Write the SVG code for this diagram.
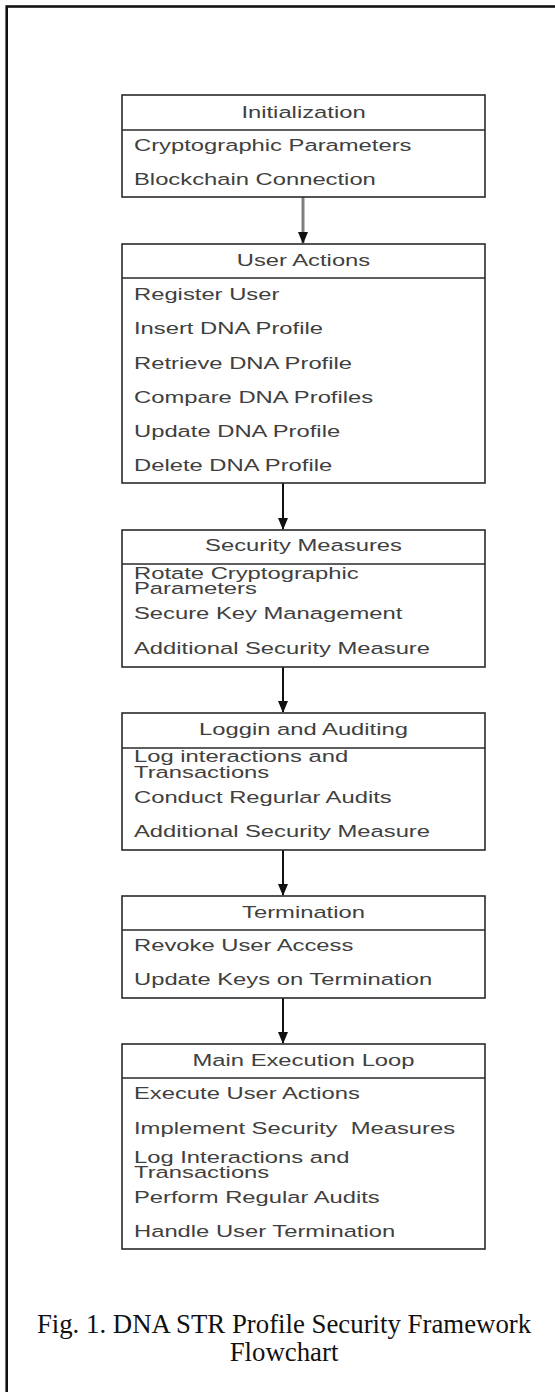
<svg xmlns="http://www.w3.org/2000/svg" width="555" height="1392" viewBox="0 0 555 1392">
<style>
.bg{fill:#ffffff}
.frame{fill:none;stroke:#111;stroke-width:2.6}
.box{fill:#ffffff;stroke:#2a2a2a;stroke-width:1.6}
.div{stroke:#2a2a2a;stroke-width:1.4}
.t{font-family:"Liberation Sans",Arial,sans-serif;font-size:16.3px;fill:#404040}
.h{text-anchor:middle}
.cap{font-family:"Liberation Serif","Times New Roman",serif;font-size:26.8px;fill:#111;text-anchor:middle}
.conn{fill:none;stroke:#111;stroke-width:2}
.conn1{fill:none;stroke:#808080;stroke-width:3}
</style>
<defs>
<marker id="ah" markerWidth="12" markerHeight="10" refX="11" refY="5" orient="auto" markerUnits="userSpaceOnUse">
<path d="M0,0 L12,5 L0,10 Z" fill="#111"/>
</marker>
</defs>
<rect class="bg" x="0" y="0" width="555" height="1392"/>
<rect class="frame" x="6.7" y="6.5" width="600" height="1420"/>

<g id="connectors">
<line class="conn1" x1="303" y1="197" x2="303" y2="243" marker-end="url(#ah)"/>
<line class="conn" x1="283" y1="483" x2="283" y2="529" marker-end="url(#ah)"/>
<line class="conn" x1="283" y1="667" x2="283" y2="712" marker-end="url(#ah)"/>
<line class="conn" x1="283" y1="850" x2="283" y2="895" marker-end="url(#ah)"/>
<line class="conn" x1="283" y1="998" x2="283" y2="1043" marker-end="url(#ah)"/>
</g>

<g id="initialization">
<rect class="box" x="122" y="95" width="363" height="102"/>
<line class="div" x1="122" y1="130" x2="485" y2="130"/>
<text class="t h" transform="matrix(1.46 0 0 1 303.5 118)">Initialization</text>
<text class="t" transform="matrix(1.46 0 0 1 134 151)">Cryptographic Parameters</text>
<text class="t" transform="matrix(1.46 0 0 1 134 185.3)">Blockchain Connection</text>
</g>

<g id="user-actions">
<rect class="box" x="122" y="244" width="363" height="239"/>
<line class="div" x1="122" y1="278" x2="485" y2="278"/>
<text class="t h" transform="matrix(1.46 0 0 1 303.5 266)">User Actions</text>
<text class="t" transform="matrix(1.46 0 0 1 134 300)">Register User</text>
<text class="t" transform="matrix(1.46 0 0 1 134 334.3)">Insert DNA Profile</text>
<text class="t" transform="matrix(1.46 0 0 1 134 369)">Retrieve DNA Profile</text>
<text class="t" transform="matrix(1.46 0 0 1 134 402.7)">Compare DNA Profiles</text>
<text class="t" transform="matrix(1.46 0 0 1 134 436.7)">Update DNA Profile</text>
<text class="t" transform="matrix(1.46 0 0 1 134 471)">Delete DNA Profile</text>
</g>

<g id="security-measures">
<rect class="box" x="122" y="530" width="363" height="137"/>
<line class="div" x1="122" y1="564" x2="485" y2="564"/>
<text class="t h" transform="matrix(1.46 0 0 1 303.5 551)">Security Measures</text>
<text class="t" transform="matrix(1.46 0 0 1 134 579.3)">Rotate Cryptographic</text>
<text class="t" transform="matrix(1.46 0 0 1 134 594.3)">Parameters</text>
<text class="t" transform="matrix(1.46 0 0 1 134 619.3)">Secure Key Management</text>
<text class="t" transform="matrix(1.46 0 0 1 134 654)">Additional Security Measure</text>
</g>

<g id="logging-auditing">
<rect class="box" x="122" y="713" width="363" height="137"/>
<line class="div" x1="122" y1="748" x2="485" y2="748"/>
<text class="t h" transform="matrix(1.46 0 0 1 303.5 735)">Loggin and Auditing</text>
<text class="t" transform="matrix(1.46 0 0 1 134 761.7)">Log interactions and</text>
<text class="t" transform="matrix(1.46 0 0 1 134 777.7)">Transactions</text>
<text class="t" transform="matrix(1.46 0 0 1 134 802.7)">Conduct Regurlar Audits</text>
<text class="t" transform="matrix(1.46 0 0 1 134 836.7)">Additional Security Measure</text>
</g>

<g id="termination">
<rect class="box" x="122" y="896" width="363" height="102"/>
<line class="div" x1="122" y1="930" x2="485" y2="930"/>
<text class="t h" transform="matrix(1.46 0 0 1 303.5 917.5)">Termination</text>
<text class="t" transform="matrix(1.46 0 0 1 134 951)">Revoke User Access</text>
<text class="t" transform="matrix(1.46 0 0 1 134 985)">Update Keys on Termination</text>
</g>

<g id="main-execution-loop">
<rect class="box" x="122" y="1044" width="363" height="205"/>
<line class="div" x1="122" y1="1078" x2="485" y2="1078"/>
<text class="t h" transform="matrix(1.46 0 0 1 303.5 1066)">Main Execution Loop</text>
<text class="t" transform="matrix(1.46 0 0 1 134 1099.3)">Execute User Actions</text>
<text class="t" transform="matrix(1.46 0 0 1 134 1134)" xml:space="preserve">Implement Security  Measures</text>
<text class="t" transform="matrix(1.46 0 0 1 134 1162.7)">Log Interactions and</text>
<text class="t" transform="matrix(1.46 0 0 1 134 1178.3)">Transactions</text>
<text class="t" transform="matrix(1.46 0 0 1 134 1202.7)">Perform Regular Audits</text>
<text class="t" transform="matrix(1.46 0 0 1 134 1236.7)">Handle User Termination</text>
</g>

<g id="caption">
<text class="cap" x="284" y="1333">Fig. 1. DNA STR Profile Security Framework</text>
<text class="cap" x="284" y="1361">Flowchart</text>
</g>
</svg>
